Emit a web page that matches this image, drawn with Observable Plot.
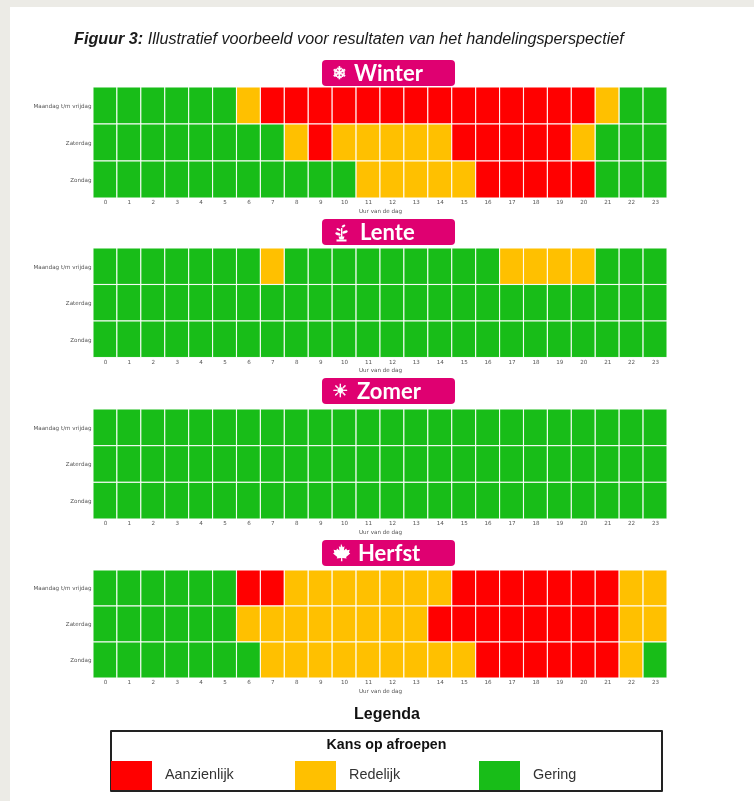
<!DOCTYPE html>
<html lang="nl">
<head>
<meta charset="utf-8">
<script src="https://cdn.jsdelivr.net/npm/d3@7"></script>
<script src="https://cdn.jsdelivr.net/npm/@observablehq/plot@0.6"></script>
<style>
  html, body { margin: 0; padding: 0; width: 754px; height: 801px; overflow: hidden; background: #ecebe6; }
  #card { position: absolute; left: 10px; top: 7px; width: 744px; height: 794px; background: #fff; }
  #page { position: absolute; left: 0; top: 0; width: 754px; height: 801px; font-family: "Liberation Sans", Arial, sans-serif; filter: blur(0.35px); }
  .abs { position: absolute; }
  #title { left: 74px; top: 29px; font-size: 16.2px; font-style: italic; color: #1a1a1a; white-space: nowrap; }
  .pill { position: absolute; left: 322px; width: 133px; height: 26px; border-radius: 4px; background: #df0071; color: #fff;
          font-family: Lato, "Open Sans", sans-serif; font-weight: 700; font-size: 22px; line-height: 26px; }
  .pill span { position: absolute; top: 0; white-space: nowrap; }
  .pill svg { position: absolute; }
  .plot { position: absolute; left: 0; }
  #legendTitle { left: 287px; width: 200px; top: 705px; text-align: center; font-weight: 700; font-size: 16px; color: #111; }
  #legendBox { left: 110px; top: 730px; width: 549px; height: 58px; border: 2px solid #222; border-radius: 1px; }
  #legendHead { left: 0; width: 549px; top: 4px; text-align: center; font-weight: 700; font-size: 14.2px; color: #111; }
  .swatch { position: absolute; top: 29px; width: 41px; height: 29px; }
  .swlabel { position: absolute; top: 34px; font-size: 14.4px; color: #333; }
</style>
</head>
<body>
<div id="card"></div>
<div id="page">
  <div id="title" class="abs"><b>Figuur 3:</b> Illustratief voorbeeld voor resultaten van het handelingsperspectief</div>
  <div id="legendTitle" class="abs">Legenda</div>
  <div id="legendBox" class="abs"><div id="legendHead" class="abs">Kans op afroepen</div></div>
</div>
<script>
const hours = d3.range(0, 24);
const dayTypes = ["Maandag t/m vrijdag", "Zaterdag", "Zondag"];
const levels = ["Aanzienlijk", "Redelijk", "Gering"];
const levelColors = ["#ff0000", "#ffc000", "#18bd18"];

// One letter per hour: A = Aanzienlijk, R = Redelijk, G = Gering
const winterWeek = "GGGGGGRAAAAAAAAAAAAAARGG";
const winterSat  = "GGGGGGGGRARRRRRAAAAARGGG";
const winterSun  = "GGGGGGGGGGGRRRRRAAAAAGGG";
const lenteWeek  = "GGGGGGGRGGGGGGGGGRRRRGGG";
const lenteSat   = "GGGGGGGGGGGGGGGGGGGGGGGG";
const lenteSun   = "GGGGGGGGGGGGGGGGGGGGGGGG";
const zomerWeek  = "GGGGGGGGGGGGGGGGGGGGGGGG";
const zomerSat   = "GGGGGGGGGGGGGGGGGGGGGGGG";
const zomerSun   = "GGGGGGGGGGGGGGGGGGGGGGGG";
const herfstWeek = "GGGGGGAARRRRRRRAAAAAAARR";
const herfstSat  = "GGGGGGRRRRRRRRAAAAAAAARR";
const herfstSun  = "GGGGGGGRRRRRRRRRAAAAAARG";

const codeToLevel = {A: "Aanzienlijk", R: "Redelijk", G: "Gering"};

const maple = '<svg width="20" height="20" viewBox="0 0 24 24" style="left:9px;top:3px"><path fill="#fff" d="M12 1l2.2 4 2-1-.7 5 2.8-2.3.9 2 3.3-.6-1 3.4 1.6 1-5 4.2.6 2-5.2-.8.2 4.1h-1.8l.2-4.1-5.2.8.6-2-5-4.2 1.6-1-1-3.4 3.3.6.9-2 2.8 2.3-.7-5 2 1z"/></svg>';
const sprout = '<svg width="13" height="18" viewBox="0 0 13 18" style="left:13px;top:5px"><g fill="#fff"><rect x="1.5" y="15.5" width="10" height="2"/><path d="M3.5 12.5h6l-1 3h-4z"/><rect x="6" y="4" width="1.4" height="9"/><ellipse cx="3" cy="10" rx="2.8" ry="1.3" transform="rotate(20 3 10)"/><ellipse cx="10" cy="8" rx="2.8" ry="1.3" transform="rotate(-20 10 8)"/><ellipse cx="3.5" cy="5.5" rx="2.2" ry="1.1" transform="rotate(25 3.5 5.5)"/><ellipse cx="8.5" cy="2" rx="2" ry="1.1" transform="rotate(-30 8.5 2)"/></g></svg>';

const seasons = [
  {name: "Winter", rows: [winterWeek, winterSat, winterSun], pillTop: 60, top: 87, h: 111, textX: 32,
   icon: '<span style="left:10px;font-size:17px;font-family:\'DejaVu Sans\';-webkit-text-stroke:0.6px #fff">\u2744</span>'},
  {name: "Lente", rows: [lenteWeek, lenteSat, lenteSun], pillTop: 219, top: 248, h: 109.5, textX: 38, icon: sprout},
  {name: "Zomer", rows: [zomerWeek, zomerSat, zomerSun], pillTop: 378, top: 409, h: 110, textX: 35,
   icon: '<span style="left:10px;font-size:18px;font-family:\'DejaVu Sans\';-webkit-text-stroke:0.5px #fff">\u2600</span>'},
  {name: "Herfst", rows: [herfstWeek, herfstSat, herfstSun], pillTop: 540, top: 570, h: 108, textX: 36, icon: maple}
];

const page = document.getElementById("page");

for (const s of seasons) {
  const pill = document.createElement("div");
  pill.className = "pill";
  pill.style.top = s.pillTop + "px";
  pill.innerHTML = s.icon + `<span style="left:${s.textX}px">${s.name}</span>`;
  page.appendChild(pill);

  const cells = s.rows.flatMap((row, i) =>
    hours.map(h => ({hour: h, day: dayTypes[i], level: codeToLevel[row[h]]})));

  const chart = Plot.plot({
    width: 754,
    height: s.h + 27,
    marginLeft: 93,
    marginRight: 87,
    marginTop: 0,
    marginBottom: 27,
    style: {fontSize: "5.6px", fontFamily: "'DejaVu Sans', sans-serif", color: "#555", background: "transparent", overflow: "visible"},
    x: {domain: hours, padding: 0, round: false, label: "Uur van de dag", labelAnchor: "center", labelArrow: "none", labelOffset: 14, tickSize: 0, tickPadding: 2},
    y: {domain: dayTypes, padding: 0, round: false, label: null, tickSize: 0, tickPadding: 2},
    color: {domain: levels, range: levelColors},
    marks: [
      Plot.cell(cells, {x: "hour", y: "day", fill: "level", stroke: "#ffffff", strokeOpacity: 0.9, strokeWidth: 1.1})
    ]
  });
  chart.classList.add("plot");
  chart.style.position = "absolute";
  chart.style.left = "0px";
  chart.style.top = s.top + "px";
  page.appendChild(chart);
}

const box = document.getElementById("legendBox");
const swatchX = [-1, 183, 367];
const labelX = [53, 237, 421];
levels.forEach((lev, i) => {
  const sw = document.createElement("div");
  sw.className = "swatch";
  sw.style.left = swatchX[i] + "px";
  sw.style.background = levelColors[i];
  box.appendChild(sw);
  const lb = document.createElement("div");
  lb.className = "swlabel";
  lb.style.left = labelX[i] + "px";
  lb.textContent = lev;
  box.appendChild(lb);
});
</script>
</body>
</html>
